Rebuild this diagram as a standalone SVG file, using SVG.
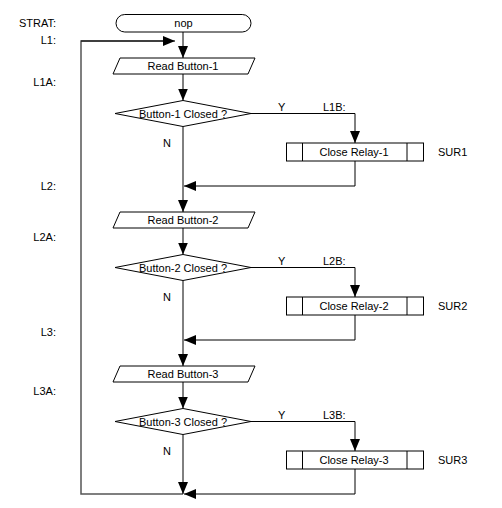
<svg xmlns="http://www.w3.org/2000/svg" width="502" height="508" viewBox="0 0 502 508">
<defs>
<marker id="ah" markerUnits="userSpaceOnUse" markerWidth="12" markerHeight="10" refX="12" refY="5" orient="auto">
<path d="M0,0 L12,5 L0,10 z" fill="#000"/>
</marker>
<style>
text{font-family:"Liberation Sans",Arial,sans-serif;font-size:11px;fill:#000}
.c{text-anchor:middle}
.e{text-anchor:end}
.shape{fill:#fff;stroke:#000;stroke-width:1}
.ln{fill:none;stroke:#000;stroke-width:1}
.ar{marker-end:url(#ah)}
.loop{fill:none;stroke:#555;stroke-width:1.5}
</style>
</defs>
<rect width="502" height="508" fill="#fff"/>

<g id="labels">
<text class="e" x="56" y="27">STRAT:</text>
<text class="e" x="56" y="44">L1:</text>
<text class="e" x="56" y="86">L1A:</text>
<text class="e" x="56" y="190">L2:</text>
<text class="e" x="56" y="241">L2A:</text>
<text class="e" x="56" y="336">L3:</text>
<text class="e" x="56" y="395">L3A:</text>
</g>

<g id="connectors">
<path class="loop" d="M183,494 H81 V41 H163"/>
<path class="ln ar" d="M81,41 H175"/>
<path class="ln ar" d="M183,32 V58"/>
<path class="ln ar" d="M183,74 V100.5"/>
<path class="ln ar" d="M251,113.5 H355 V143"/>
<path class="ln ar" d="M355,161 V186 H184"/>
<path class="ln ar" d="M183,126.5 V212"/>
<path class="ln ar" d="M183,228 V254.5"/>
<path class="ln ar" d="M251,267.5 H355 V297"/>
<path class="ln ar" d="M355,315 V340 H184"/>
<path class="ln ar" d="M183,280.5 V366"/>
<path class="ln ar" d="M183,382 V408.5"/>
<path class="ln ar" d="M251,421.5 H355 V451"/>
<path class="ln ar" d="M355,469 V494 H184"/>
<path class="ln ar" d="M183,434.5 V494"/>
<text x="278" y="111">Y</text>
<text x="323" y="111">L1B:</text>
<text x="163" y="147">N</text>
<text x="278" y="265">Y</text>
<text x="323" y="265">L2B:</text>
<text x="163" y="301">N</text>
<text x="278" y="419">Y</text>
<text x="323" y="419">L3B:</text>
<text x="163" y="455">N</text>
</g>

<g id="start">
<rect class="shape" x="116" y="14.5" width="135" height="17.5" rx="8.75"/>
<text class="c" x="183.5" y="27">nop</text>
</g>

<g id="read1">
<polygon class="shape" points="120,58 255,58 248,74 113,74"/>
<text class="c" x="183" y="70">Read Button-1</text>
</g>
<g id="dec1">
<polygon class="shape" points="183,100.5 251,113.5 183,126.5 115,113.5"/>
<text class="c" x="183" y="117.5">Button-1 Closed ?</text>
</g>
<g id="relay1">
<rect class="shape" x="286.5" y="143" width="137" height="18"/>
<path class="ln" d="M302.5,143 V161 M407,143 V161"/>
<text class="c" x="354" y="156">Close Relay-1</text>
<text x="438" y="156">SUR1</text>
</g>

<g id="read2">
<polygon class="shape" points="120,212 255,212 248,228 113,228"/>
<text class="c" x="183" y="224">Read Button-2</text>
</g>
<g id="dec2">
<polygon class="shape" points="183,254.5 251,267.5 183,280.5 115,267.5"/>
<text class="c" x="183" y="271.5">Button-2 Closed ?</text>
</g>
<g id="relay2">
<rect class="shape" x="286.5" y="297" width="137" height="18"/>
<path class="ln" d="M302.5,297 V315 M407,297 V315"/>
<text class="c" x="354" y="310">Close Relay-2</text>
<text x="438" y="310">SUR2</text>
</g>

<g id="read3">
<polygon class="shape" points="120,366 255,366 248,382 113,382"/>
<text class="c" x="183" y="378">Read Button-3</text>
</g>
<g id="dec3">
<polygon class="shape" points="183,408.5 251,421.5 183,434.5 115,421.5"/>
<text class="c" x="183" y="425.5">Button-3 Closed ?</text>
</g>
<g id="relay3">
<rect class="shape" x="286.5" y="451" width="137" height="18"/>
<path class="ln" d="M302.5,451 V469 M407,451 V469"/>
<text class="c" x="354" y="464">Close Relay-3</text>
<text x="438" y="464">SUR3</text>
</g>
</svg>
